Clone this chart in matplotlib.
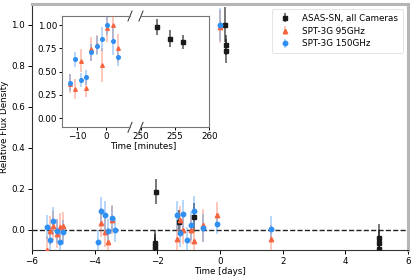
import numpy as np
import matplotlib
matplotlib.use("Agg")
import matplotlib.pyplot as plt

plt.rcParams['font.family'] = ['DejaVu Sans']
plt.rcParams['font.size'] = 6.3

# ---------------- data (main panel, days) ----------------
nan = np.nan
spt_t = [-5.53, -5.42, -5.32, -5.21, -5.10, -5.00,
         -3.88, -3.80, -3.68, -3.57, -3.44, -3.34,
         -1.38, -1.27, -1.17, -1.06, -0.94, -0.83,
         -0.55, -0.10, 0.00, 1.63]
spt150 = [0.013, -0.050, 0.042, -0.008, -0.062, -0.012,
          -0.063, 0.089, 0.069, -0.008, 0.055, -0.002,
          0.070, -0.015, 0.075, -0.050, 0.021, 0.092,
          0.008, 0.026, 1.000, 0.004]
spt150_err = [0.06, 0.06, 0.07, 0.06, 0.06, 0.06,
              0.06, 0.07, 0.07, 0.06, 0.06, 0.06,
              0.07, 0.07, 0.07, 0.06, 0.07, 0.07,
              0.07, 0.05, 0.08, 0.06]
spt95 = [-0.100, -0.005, 0.018, -0.020, 0.010, 0.016,
         nan, 0.034, -0.014, -0.062, 0.048, nan,
         -0.046, 0.046, -0.003, nan, 0.000, -0.058,
         0.020, 0.072, 0.990, -0.048]
spt95_err = [0.07, 0.07, 0.07, 0.07, 0.07, 0.07,
             0.07, 0.07, 0.07, 0.07, 0.07, 0.07,
             0.07, 0.07, 0.07, 0.07, 0.07, 0.07,
             0.08, 0.06, 0.08, 0.07]
asas_t = [-2.03, -2.07, -2.07, -2.07, -1.31, -0.83,
          0.175, 0.177, 0.178, 5.06, 5.06, 5.06]
asas = [0.185, -0.064, -0.080, -0.097, 0.037, 0.060,
        1.000, 0.900, 0.870, -0.040, -0.066, -0.095]
asas_err = [0.06, 0.06, 0.06, 0.06, 0.06, 0.07,
            0.085, 0.05, 0.06, 0.065, 0.065, 0.065]

# ---------------- data (inset, minutes) ----------------
in_t = [-12.3, -10.7, -8.7, -7.0, -5.2, -3.3, -1.5, 0.1, 2.2, 3.8]
in150 = [0.38, 0.635, 0.41, 0.44, 0.71, 0.78, 0.85, 1.00, 0.83, 0.66]
in150_err = [0.09, 0.08, 0.08, 0.08, 0.09, 0.10, 0.13, 0.10, 0.15, 0.10]
in95 = [0.37, 0.31, 0.62, 0.32, 0.74, 0.79, 0.57, 0.97, 1.00, 0.755]
in95_err = [0.10, 0.11, 0.12, 0.09, 0.13, 0.10, 0.18, 0.15, 0.15, 0.15]
in_asas_t = [252.4, 254.3, 256.1]
in_asas = [0.98, 0.855, 0.815]
in_asas_err = [0.09, 0.09, 0.075]

C_BLUE = '#2f8ff2'
C_ORANGE = '#f7643f'
C_BLACK = '#1a1a1a'

W, H = 415, 276
fig = plt.figure(figsize=(W / 100, H / 100), dpi=100)

ax = fig.add_axes([32 / W, 1 - 250 / H, (408 - 32) / W, (250 - 4) / H])

def eb(a, x, y, e, color, marker, label=None, ms=3.2, ealpha=0.45):
    cont = a.errorbar(x, y, yerr=e, fmt=marker, color=color, ms=ms,
                      ecolor=color, elinewidth=1.1, capsize=0, label=label,
                      zorder=3)
    for col in cont[2]:
        col.set_alpha(ealpha)
    return cont

eb(ax, asas_t, asas, asas_err, C_BLACK, 's', 'ASAS-SN, all Cameras', ms=3, ealpha=0.75)
eb(ax, spt_t, spt95, spt95_err, C_ORANGE, '^', 'SPT-3G 95GHz')
eb(ax, spt_t, spt150, spt150_err, C_BLUE, 'o', 'SPT-3G 150GHz')
ax.axhline(0, color='#222222', ls='--', lw=1.0, zorder=2)

ax.set_xlim(-6, 6)
ax.set_ylim(-0.1, 1.1)
ax.set_xticks([-6, -4, -2, 0, 2, 4, 6])
ax.set_yticks([0.0, 0.2, 0.4, 0.6, 0.8, 1.0])
ax.set_xlabel('Time [days]', labelpad=1)
ax.set_ylabel('Relative Flux Density')
ax.yaxis.set_label_coords(-0.062, 0.5)
ax.tick_params(length=3, width=0.7, pad=2)
for s in ['left', 'bottom']:
    ax.spines[s].set_color('#333333')
    ax.spines[s].set_linewidth(0.8)
for s in ['top', 'right']:
    ax.spines[s].set_color('#b5b5b5')
    ax.spines[s].set_linewidth(2.2)

leg = ax.legend(loc='upper right', fontsize=6.3, frameon=True, fancybox=True,
                borderaxespad=0.6, handletextpad=1.0, labelspacing=0.45,
                borderpad=0.5)
leg.get_frame().set_edgecolor('#dddddd')
leg.get_frame().set_linewidth(0.7)

# ---------------- inset (broken axis) ----------------
iy0 = 1 - 127.3 / H
ih = (127.3 - 16) / H
axL = fig.add_axes([62.3 / W, iy0, (130 - 62.3) / W, ih])
axR = fig.add_axes([141 / W, iy0, (209.3 - 141) / W, ih])

eb(axL, in_t, in95, in95_err, C_ORANGE, '^', ms=2.6)
eb(axL, in_t, in150, in150_err, C_BLUE, 'o', ms=2.6)
eb(axR, in_asas_t, in_asas, in_asas_err, C_BLACK, 's', ms=2.8, ealpha=0.75)

for a in (axL, axR):
    a.set_ylim(-0.1, 1.1)
    a.tick_params(length=2.5, width=0.7, pad=1.2)
    for s in a.spines.values():
        s.set_color('#777777')
        s.set_linewidth(0.8)
    a.set_facecolor('white')

axL.set_xlim(-15, 8)
axL.set_xticks([-10, 0])
axL.set_yticks([0.0, 0.25, 0.5, 0.75, 1.0])
axL.set_yticklabels(['0.00', '0.25', '0.50', '0.75', '1.00'])
axL.spines['right'].set_visible(False)

axR.set_xlim(250, 260)
axR.set_xticks([250, 255, 260])
axR.set_yticks([])
axR.spines['left'].set_visible(False)

d = 0.03
kw = dict(color='#333333', lw=0.7, clip_on=False)
axL.plot((1 - d, 1 + d), (-d * 1.5, d * 1.5), transform=axL.transAxes, **kw)
axL.plot((1 - d, 1 + d), (1 - d * 1.5, 1 + d * 1.5), transform=axL.transAxes, **kw)
axR.plot((-d, d), (-d * 1.5, d * 1.5), transform=axR.transAxes, **kw)
axR.plot((-d, d), (1 - d * 1.5, 1 + d * 1.5), transform=axR.transAxes, **kw)

fig.text(143.5 / W, 1 - 146 / H, 'Time [minutes]', ha='center', va='center',
         fontsize=6.3)

fig.savefig('out.png', dpi=100)
